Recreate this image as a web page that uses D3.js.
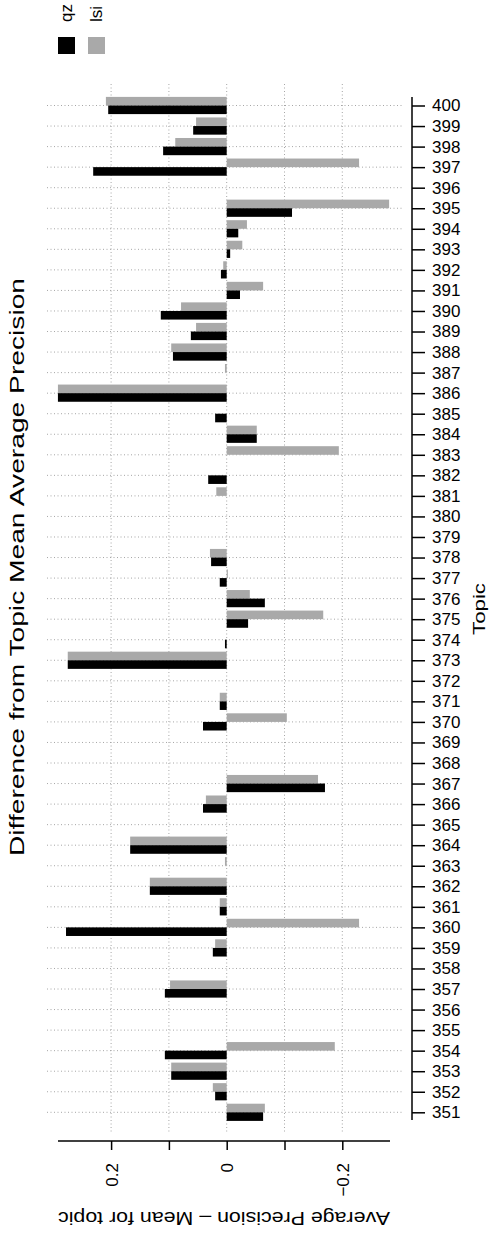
<!DOCTYPE html>
<html>
<head>
<meta charset="utf-8">
<script src="https://cdn.jsdelivr.net/npm/d3@7"></script>
<style>
  html, body { margin: 0; padding: 0; background: #fff; }
  svg { display: block; font-family: "Liberation Sans", Arial, Helvetica, sans-serif; }
</style>
</head>
<body>
<svg id="chart" width="491" height="1236"></svg>
<script>
// ---- data (topics 351..400) ----
const topics = [351,352,353,354,355,356,357,358,359,360,
                361,362,363,364,365,366,367,368,369,370,
                371,372,373,374,375,376,377,378,379,380,
                381,382,383,384,385,386,387,388,389,390,
                391,392,393,394,395,396,397,398,399,400];
const qz  = [-0.063, 0.020, 0.096, 0.107, 0, 0, 0.107, 0, 0.024, 0.278,
              0.012, 0.133, 0, 0.167, 0, 0.041, -0.170, 0, 0, 0.041,
              0.012, 0, 0.275, 0.003, -0.037, -0.066, 0.012, 0.027, 0, 0,
              0, 0.032, 0, -0.052, 0.020, 0.292, 0, 0.093, 0.062, 0.114,
             -0.023, 0.010, -0.006, -0.020, -0.113, 0, 0.231, 0.110, 0.058, 0.205];
const lsi = [-0.066, 0.024, 0.096, -0.187, 0, 0, 0.098, 0, 0.020, -0.229,
              0.012, 0.133, 0.003, 0.167, 0, 0.036, -0.158, 0, 0, -0.104,
              0.012, 0, 0.275, 0, -0.167, -0.040, -0.002, 0.029, 0, 0,
              0.018, 0, -0.194, -0.052, 0, 0.292, 0.003, 0.096, 0.053, 0.079,
             -0.063, 0.006, -0.027, -0.035, -0.281, 0, -0.229, 0.089, 0.053, 0.209];
const seriesNames = ["qz", "lsi"];
const valueTicks = [0.2, 0.1, 0, -0.1, -0.2];
const labelledTicks = [0.2, 0, -0.2];
const title = "Difference from Topic Mean Average Precision";
const xTitle = "Average Precision \u2013 Mean for topic";
const yTitle = "Topic";

// ---- layout ----
const colors = { qz: "#000000", lsi: "#a9a9a9" };
const gridColor = "#a6a6a6";
const svg = d3.select("#chart");

const x = d3.scaleLinear().domain([0.2, -0.2]).range([111.1, 342.3]);
const y = d3.scaleLinear().domain([400, 351]).range([105.5, 1112.3]);
const barH = 8.6;

// grid
const grid = svg.append("g");
grid.selectAll("line.h").data(topics).join("line")
  .attr("x1", 47).attr("x2", 402)
  .attr("y1", d => y(d)).attr("y2", d => y(d))
  .attr("stroke", gridColor).attr("stroke-width", 1)
  .attr("stroke-dasharray", "1,2.5");
grid.selectAll("line.v").data(valueTicks).join("line")
  .attr("x1", d => x(d)).attr("x2", d => x(d))
  .attr("y1", 84).attr("y2", 1132)
  .attr("stroke", gridColor).attr("stroke-width", 1)
  .attr("stroke-dasharray", "1,2.5");

// bars
const rows = topics.map((t, i) => ({ t, qz: qz[i], lsi: lsi[i] }));
const bars = svg.append("g");
bars.selectAll("rect.lsi").data(rows).join("rect")
  .attr("x", d => Math.min(x(d.lsi), x(0)))
  .attr("width", d => Math.abs(x(d.lsi) - x(0)))
  .attr("y", d => y(d.t) - barH)
  .attr("height", barH)
  .attr("fill", colors.lsi);
bars.selectAll("rect.qz").data(rows).join("rect")
  .attr("x", d => Math.min(x(d.qz), x(0)))
  .attr("width", d => Math.abs(x(d.qz) - x(0)))
  .attr("y", d => y(d.t))
  .attr("height", barH)
  .attr("fill", colors.qz);

// topic axis (right)
const yAxis = d3.axisRight(y).tickValues(topics).tickSize(13).tickPadding(7)
  .tickFormat(d3.format("d"));
const ga = svg.append("g").attr("transform", "translate(412,0)").call(yAxis);
ga.select(".domain").remove();
ga.append("line").attr("x1", 0).attr("x2", 0).attr("y1", 97).attr("y2", 1120)
  .attr("stroke", "#000").attr("stroke-width", 1.5);
ga.selectAll(".tick line").attr("stroke", "#000").attr("stroke-width", 1.5);
ga.selectAll(".tick text").attr("fill", "#000").attr("font-size", 17)
  .attr("font-family", "Liberation Sans, Arial, sans-serif");

// value axis (bottom)
const xAxis = d3.axisBottom(x).tickValues(valueTicks).tickSize(9)
  .tickFormat(d => labelledTicks.includes(d) ? d3.format("")(d) : "");
const gb = svg.append("g").attr("transform", "translate(0,1141)").call(xAxis);
gb.select(".domain").remove();
gb.append("line").attr("x1", 58).attr("x2", 390).attr("y1", 0).attr("y2", 0)
  .attr("stroke", "#000").attr("stroke-width", 1.5);
gb.selectAll(".tick line").attr("stroke", "#000").attr("stroke-width", 1.5);
gb.selectAll(".tick text")
  .attr("fill", "#000").attr("font-size", 17)
  .attr("font-family", "Liberation Sans, Arial, sans-serif")
  .attr("transform", "rotate(-90)")
  .attr("text-anchor", "end")
  .attr("x", -22).attr("y", 6).attr("dy", 0);

// titles
svg.append("text")
  .attr("transform", "translate(24,567) rotate(-90)")
  .attr("text-anchor", "middle").attr("font-size", 21)
  .attr("textLength", 578).attr("lengthAdjust", "spacingAndGlyphs")
  .text(title);
svg.append("text")
  .attr("transform", "translate(224,1212) rotate(180)")
  .attr("text-anchor", "middle").attr("font-size", 19)
  .attr("textLength", 332).attr("lengthAdjust", "spacingAndGlyphs")
  .text(xTitle);
svg.append("text")
  .attr("transform", "translate(485,609) rotate(-90)")
  .attr("text-anchor", "middle").attr("font-size", 17)
  .attr("textLength", 52).attr("lengthAdjust", "spacingAndGlyphs")
  .text(yTitle);

// legend
const legX = [58, 88];
const leg = svg.append("g");
seriesNames.forEach((s, i) => {
  leg.append("rect").attr("x", legX[i]).attr("y", 37).attr("width", 17).attr("height", 17)
    .attr("fill", colors[s]);
  leg.append("text")
    .attr("transform", `translate(${legX[i] + 14},22) rotate(-90)`)
    .attr("text-anchor", "start").attr("font-size", 17)
    .text(s);
});
</script>
</body>
</html>
